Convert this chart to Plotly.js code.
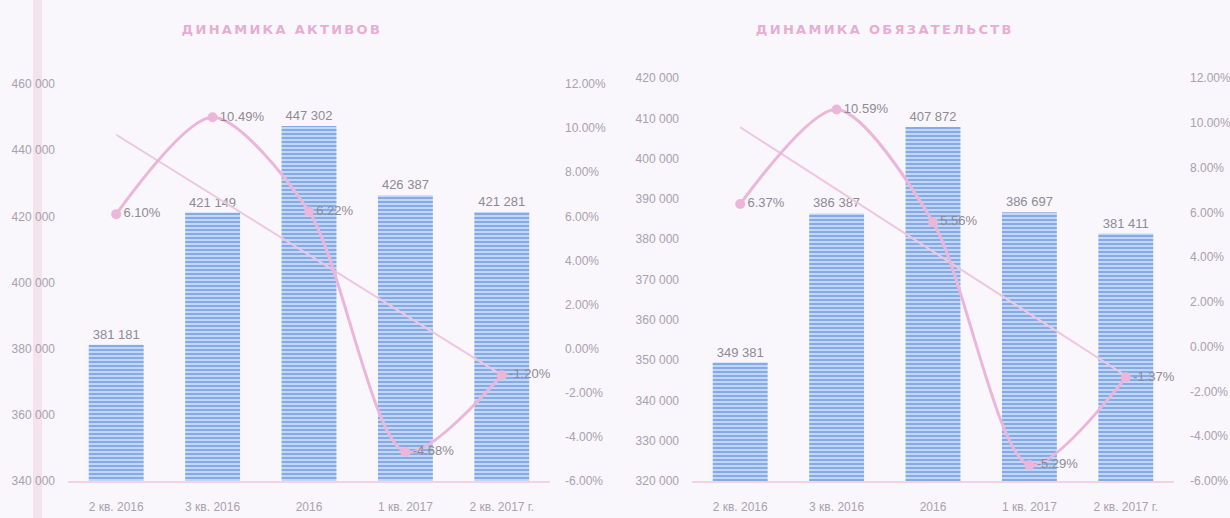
<!DOCTYPE html>
<html>
<head>
<meta charset="utf-8">
<script src="https://cdn.plot.ly/plotly-3.0.1.min.js"></script>
<style>
  html, body { margin: 0; padding: 0; background: #f9f7fb; }
  #chart { width: 1230px; height: 518px; }
</style>
</head>
<body>
<div id="chart"></div>
<script>
// ---- data ----
const categories = ["2 кв. 2016", "3 кв. 2016", "2016", "1 кв. 2017", "2 кв. 2017 г."];

const assetsTitle = "ДИНАМИКА АКТИВОВ";
const assetsValues = [381181, 421149, 447302, 426387, 421281];
const assetsGrowth = [6.10, 10.49, 6.22, -4.68, -1.20];
const assetsTrendCats = ["2 кв. 2016", "2 кв. 2017 г."];
const assetsTrend = [9.7, -1.2];

const liabTitle = "ДИНАМИКА ОБЯЗАТЕЛЬСТВ";
const liabValues = [349381, 386387, 407872, 386697, 381411];
const liabGrowth = [6.37, 10.59, 5.56, -5.29, -1.37];
const liabTrendCats = ["2 кв. 2016", "2 кв. 2017 г."];
const liabTrend = [9.8, -1.3];

const assetsAxisTicks = [340000, 360000, 380000, 400000, 420000, 440000, 460000];
const liabAxisTicks = [320000, 330000, 340000, 350000, 360000, 370000, 380000, 390000, 400000, 410000, 420000];
const pctAxisTicks = [-6, -4, -2, 0, 2, 4, 6, 8, 10, 12];

// ---- formatting helpers ----
function fmtThousands(v) { return String(v).replace(/\B(?=(\d{3})+(?!\d))/g, " "); }
function fmtPct(v) { return v.toFixed(2) + "%"; }

// ---- styling ----
const W = 1230, H = 518;
const FONT = "Liberation Sans Narrow, Arial Narrow, Liberation Sans, sans-serif";
const tickColor = "#aaa0ae";
const labelColor = "#8f8a95";
const pink = "#ecb6da";
const trendPink = "#efc6e2";
const barPattern = {shape: "-", fgcolor: "#7fa6e2", bgcolor: "#c2d7f5", size: 4, solidity: 0.45};

function px(x) { return x / W; }
function py(y) { return 1 - y / H; }

function barTrace(vals, xa, ya) {
  return {
    type: "bar", x: categories, y: vals, xaxis: xa, yaxis: ya,
    marker: {color: "#a9c6ef", pattern: barPattern, line: {width: 0}},
    text: vals.map(fmtThousands), texttemplate: "%{text}", textposition: "outside",
    textfont: {family: FONT, size: 13, color: labelColor},
    cliponaxis: false, hoverinfo: "skip"
  };
}
function trendTrace(cats, vals, xa, ya) {
  return {
    type: "scatter", mode: "lines", x: cats, y: vals, xaxis: xa, yaxis: ya,
    line: {color: trendPink, width: 2}, hoverinfo: "skip"
  };
}
function growthTrace(vals, xa, ya) {
  return {
    type: "scatter", mode: "lines+markers+text", x: categories, y: vals, xaxis: xa, yaxis: ya,
    line: {color: pink, width: 3, shape: "spline", smoothing: 0.8},
    marker: {color: pink, size: 10},
    text: vals.map(fmtPct), texttemplate: "%{text}", textposition: "middle right",
    textfont: {family: FONT, size: 13, color: labelColor},
    cliponaxis: false, hoverinfo: "skip"
  };
}

const data = [
  barTrace(assetsValues, "x", "y"),
  trendTrace(assetsTrendCats, assetsTrend, "x", "y2"),
  growthTrace(assetsGrowth, "x", "y2"),
  barTrace(liabValues, "x2", "y3"),
  trendTrace(liabTrendCats, liabTrend, "x2", "y4"),
  growthTrace(liabGrowth, "x2", "y4")
];

const tickFont = {family: FONT, size: 12, color: tickColor};
const xCommon = {
  type: "category", showgrid: false, zeroline: false, showline: true,
  linecolor: "#f2d3e4", linewidth: 1.5, ticks: "", tickfont: tickFont,
  ticklabelstandoff: 14, fixedrange: true
};
const yCommon = {
  showgrid: false, zeroline: false, showline: false, ticks: "", tickfont: tickFont, fixedrange: true
};
function edges(t) { return [t[0], t[t.length - 1]]; }

const layout = {
  width: W, height: H,
  margin: {l: 0, r: 0, t: 0, b: 0, pad: 0},
  paper_bgcolor: "#f9f7fb", plot_bgcolor: "rgba(0,0,0,0)",
  showlegend: false, bargap: 0.43,
  font: {family: FONT},
  xaxis: Object.assign({}, xCommon, {domain: [px(68), px(550)], anchor: "y"}),
  xaxis2: Object.assign({}, xCommon, {domain: [px(692), px(1174)], anchor: "y3"}),
  yaxis: Object.assign({}, yCommon, {
    domain: [py(481), py(84)], anchor: "x", range: edges(assetsAxisTicks),
    tickmode: "array", tickvals: assetsAxisTicks, ticktext: assetsAxisTicks.map(fmtThousands),
    ticklabelstandoff: 12
  }),
  yaxis2: Object.assign({}, yCommon, {
    overlaying: "y", side: "right", anchor: "x", range: edges(pctAxisTicks),
    tickmode: "array", tickvals: pctAxisTicks, ticktext: pctAxisTicks.map(fmtPct),
    ticklabelstandoff: 14
  }),
  yaxis3: Object.assign({}, yCommon, {
    domain: [py(481), py(78)], anchor: "x2", range: edges(liabAxisTicks),
    tickmode: "array", tickvals: liabAxisTicks, ticktext: liabAxisTicks.map(fmtThousands),
    ticklabelstandoff: 12
  }),
  yaxis4: Object.assign({}, yCommon, {
    overlaying: "y3", side: "right", anchor: "x2", range: edges(pctAxisTicks),
    tickmode: "array", tickvals: pctAxisTicks, ticktext: pctAxisTicks.map(fmtPct),
    ticklabelstandoff: 15
  }),
  annotations: [
    {text: assetsTitle, xref: "paper", yref: "paper", x: px(282), y: py(29),
     xanchor: "center", yanchor: "middle", showarrow: false,
     font: {family: "DejaVu Sans", size: 13, color: "#e6aed2", weight: "bold"}},
    {text: liabTitle, xref: "paper", yref: "paper", x: px(884), y: py(29),
     xanchor: "center", yanchor: "middle", showarrow: false,
     font: {family: "DejaVu Sans", size: 13, color: "#e6aed2", weight: "bold"}}
  ],
  shapes: [
    {type: "rect", xref: "paper", yref: "paper", x0: px(33), x1: px(42), y0: 0, y1: 1,
     fillcolor: "#f5e3ec", line: {width: 0}, layer: "below"}
  ]
};

Plotly.newPlot("chart", data, layout, {staticPlot: true, displayModeBar: false}).then(function () {
  document.querySelectorAll(".annotation-text").forEach(function (el) {
    el.style.letterSpacing = "2.3px";
  });
});
</script>
</body>
</html>
